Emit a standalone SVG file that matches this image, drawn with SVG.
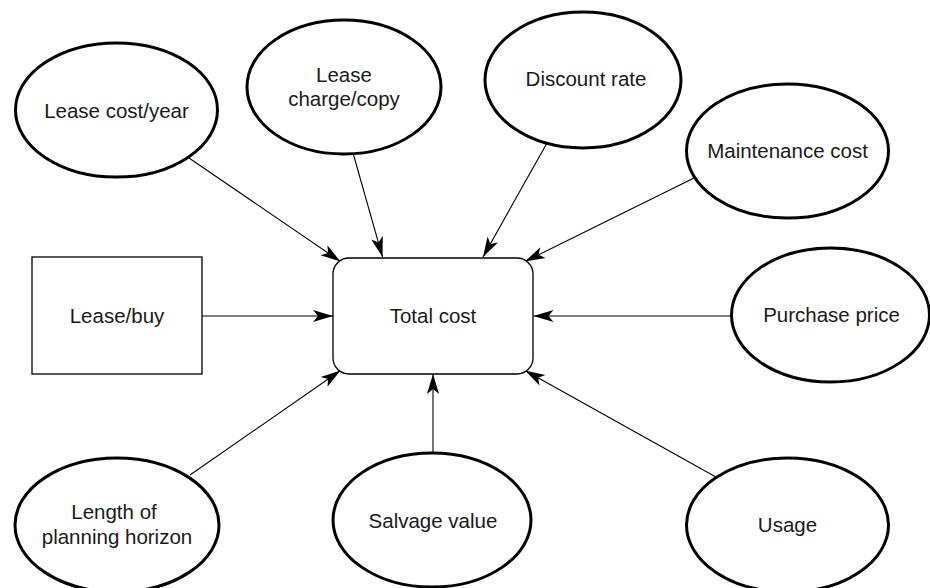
<svg xmlns="http://www.w3.org/2000/svg" width="930" height="588" viewBox="0 0 930 588">
<style>
.ell{fill:#fff;stroke:#000;stroke-width:3}
.box{fill:#fff;stroke:#000;stroke-width:1.3}
.lbl{font-family:"Liberation Sans",Arial,sans-serif;font-size:20.5px;fill:#1a1a1a;text-anchor:middle}
.con{stroke:#000;stroke-width:1.1;fill:none;marker-end:url(#arr)}
</style>
<defs>
<marker id="arr" markerUnits="userSpaceOnUse" markerWidth="22" markerHeight="14" viewBox="0 0 22 14" refX="21" refY="7" orient="auto">
<path d="M1,1 L21,7 L1,13 L6,7 Z" fill="#000"/>
</marker>
</defs>
<rect width="930" height="588" fill="#fff"/>
<g id="connectors">
<line class="con" x1="189" y1="158" x2="340.5" y2="261.5"/>
<line class="con" x1="353" y1="153" x2="382.5" y2="257"/>
<line class="con" x1="547" y1="143" x2="483" y2="257"/>
<line class="con" x1="694" y1="178" x2="525" y2="261.5"/>
<line class="con" x1="731" y1="316" x2="533.5" y2="316"/>
<line class="con" x1="202" y1="316" x2="333" y2="316"/>
<line class="con" x1="190" y1="475" x2="340.5" y2="370.5"/>
<line class="con" x1="433" y1="453" x2="433" y2="374"/>
<line class="con" x1="715" y1="476.5" x2="525" y2="370.5"/>
</g>
<g id="total-cost">
<rect class="box" x="333" y="258" width="200" height="116" rx="16" ry="16"/>
<text class="lbl" x="433" y="323">Total cost</text>
</g>
<g id="lease-buy">
<rect class="box" x="32" y="257" width="170" height="117"/>
<text class="lbl" x="117" y="323">Lease/buy</text>
</g>
<g id="lease-cost-year">
<ellipse class="ell" cx="116.5" cy="110" rx="101" ry="67"/>
<text class="lbl" x="116.5" y="118">Lease cost/year</text>
</g>
<g id="lease-charge-copy">
<ellipse class="ell" cx="344" cy="87" rx="97" ry="67"/>
<text class="lbl" x="344" y="82">Lease</text>
<text class="lbl" x="344" y="106">charge/copy</text>
</g>
<g id="discount-rate">
<ellipse class="ell" cx="583" cy="80" rx="98" ry="68"/>
<text class="lbl" x="586" y="86">Discount rate</text>
</g>
<g id="maintenance-cost">
<ellipse class="ell" cx="787.5" cy="151" rx="101" ry="67"/>
<text class="lbl" x="787.5" y="158">Maintenance cost</text>
</g>
<g id="purchase-price">
<ellipse class="ell" cx="830.5" cy="315" rx="99" ry="67"/>
<text class="lbl" x="831.5" y="322">Purchase price</text>
</g>
<g id="length-of-planning-horizon">
<ellipse class="ell" cx="117" cy="525" rx="102" ry="67"/>
<text class="lbl" x="114" y="519">Length of</text>
<text class="lbl" x="117" y="544">planning horizon</text>
</g>
<g id="salvage-value">
<ellipse class="ell" cx="432" cy="520" rx="99" ry="67"/>
<text class="lbl" x="433" y="528">Salvage value</text>
</g>
<g id="usage">
<ellipse class="ell" cx="787.5" cy="525" rx="101" ry="67"/>
<text class="lbl" x="787.5" y="532">Usage</text>
</g>
</svg>
